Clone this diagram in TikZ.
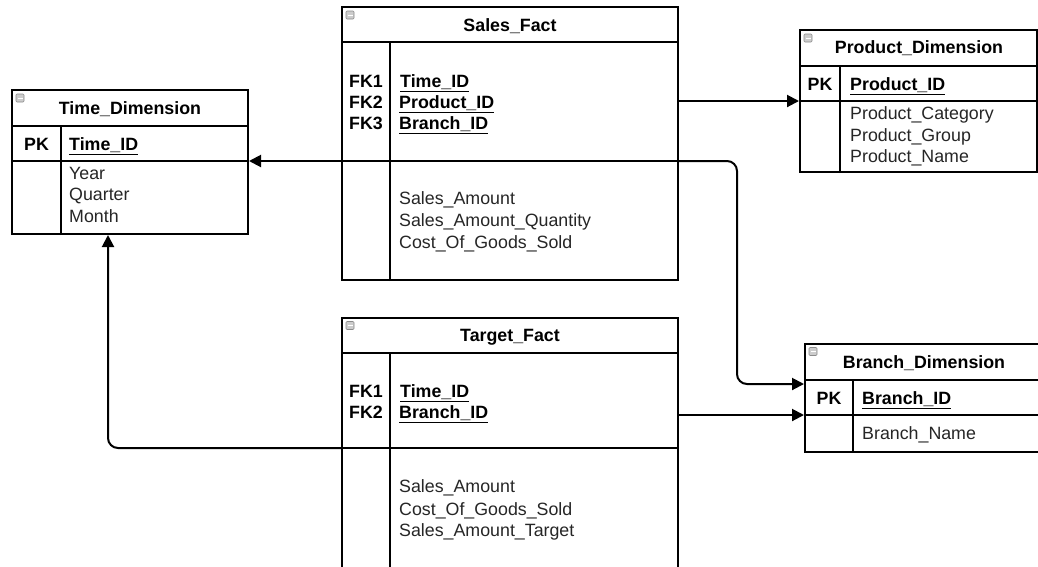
\documentclass[tikz,border=0pt]{standalone}
\usepackage{fontspec}
\setmainfont{Liberation Sans}
\usetikzlibrary{arrows.meta}
\tikzset{
  tbl/.style={draw, line width=2pt, inner sep=0pt, fill=white},
  sep/.style={line width=2pt},
  txtb/.style={font=\bfseries\fontsize{17.8}{21}\selectfont, inner sep=0pt, text height=12.7pt, text depth=0pt},
  txt/.style={font=\fontsize{17.8}{21}\selectfont, text=black!85, inner sep=0pt, text height=12.7pt, text depth=0pt, anchor=west},
  keyf/.style={txtb, anchor=west},
  conn/.style={line width=2pt, -{Triangle[length=12pt,width=12pt]}},
  icon/.style={draw=black!45, fill=black!20, line width=0.6pt, rounded corners=1pt}
}
\newcommand{\tblicon}[2]{%
  \draw[icon] (#1+4,#2+4) rectangle (#1+12,#2+12);
  \draw[white, line width=0.9pt] (#1+5.5,#2+8) -- (#1+10.5,#2+8);}
\begin{document}
\begin{tikzpicture}[x=1pt,y=-1pt]
\useasboundingbox (0,0) rectangle (1038,566);
\clip (0,0) rectangle (1038,566);

% ---------------- tables ----------------
% Time_Dimension
\node[tbl, minimum width=236pt, minimum height=144pt] (time) at (130,162) {};
\draw[sep] (time.west |- 0,126) -- (time.east |- 0,126);
\draw[sep] (time.west |- 0,161) -- (time.east |- 0,161);
\draw[sep] (time.south -| 61,0) -- (61,126);
\tblicon{12}{90}
\node[txtb] (timeT) at (130,108) {Time\_Dimension};
\node[txtb] (timePK) at (36.5,144.5) {PK};
\node[keyf] (timeK) at (69,144.5) {\underline{Time\_ID}};
\node[txt] (timeF1) at (69,173) {Year};
\node[txt] (timeF2) at (69,194.5) {Quarter};
\node[txt] (timeF3) at (69,216) {Month};

% Sales_Fact
\node[tbl, minimum width=336pt, minimum height=273pt] (sales) at (510,143.5) {};
\draw[sep] (sales.west |- 0,42) -- (sales.east |- 0,42);
\draw[sep] (sales.west |- 0,161) -- (sales.east |- 0,161);
\draw[sep] (sales.south -| 390,0) -- (390,42);
\tblicon{342}{7}
\node[txtb] (salesT) at (510,25) {Sales\_Fact};
\node[txtb] (salesFK1) at (366,81) {FK1};
\node[txtb] (salesFK2) at (366,102) {FK2};
\node[txtb] (salesFK3) at (366,123.5) {FK3};
\node[keyf] (salesK1) at (400,81) {\underline{Time\_ID}};
\node[keyf] (salesK2) at (399,102) {\underline{Product\_ID}};
\node[keyf] (salesK3) at (399,123.5) {\underline{Branch\_ID}};
\node[txt] (salesF1) at (399,198.5) {Sales\_Amount};
\node[txt] (salesF2) at (399,220) {Sales\_Amount\_Quantity};
\node[txt] (salesF3) at (399,242) {Cost\_Of\_Goods\_Sold};

% Product_Dimension
\node[tbl, minimum width=237pt, minimum height=142pt] (prod) at (918.5,101) {};
\draw[sep] (prod.west |- 0,65.5) -- (prod.east |- 0,65.5);
\draw[sep] (prod.west |- 0,101) -- (prod.east |- 0,101);
\draw[sep] (prod.south -| 840,0) -- (840,65.5);
\tblicon{800}{30}
\node[txtb] (prodT) at (919,47) {Product\_Dimension};
\node[txtb] (prodPK) at (820,84) {PK};
\node[keyf] (prodK) at (850,84) {\underline{Product\_ID}};
\node[txt] (prodF1) at (850,113.3) {Product\_Category};
\node[txt] (prodF2) at (850,134.7) {Product\_Group};
\node[txt] (prodF3) at (850,156) {Product\_Name};

% Target_Fact
\node[tbl, minimum width=336pt, minimum height=272pt] (target) at (510,453.5) {};
\draw[sep] (target.west |- 0,353) -- (target.east |- 0,353);
\draw[sep] (target.west |- 0,448) -- (target.east |- 0,448);
\draw[sep] (target.south -| 390,0) -- (390,353);
\tblicon{342}{317.5}
\node[txtb] (targetT) at (510,335) {Target\_Fact};
\node[txtb] (targetFK1) at (366,391) {FK1};
\node[txtb] (targetFK2) at (366,412.5) {FK2};
\node[keyf] (targetK1) at (400,391) {\underline{Time\_ID}};
\node[keyf] (targetK2) at (399,412.5) {\underline{Branch\_ID}};
\node[txt] (targetF1) at (399,486.5) {Sales\_Amount};
\node[txt] (targetF2) at (399,509) {Cost\_Of\_Goods\_Sold};
\node[txt] (targetF3) at (399,530.5) {Sales\_Amount\_Target};

% Branch_Dimension
\node[tbl, minimum width=238pt, minimum height=108pt] (branch) at (924,397.5) {};
\draw[sep] (branch.west |- 0,379.5) -- (branch.east |- 0,379.5);
\draw[sep] (branch.west |- 0,415) -- (branch.east |- 0,415);
\draw[sep] (branch.south -| 853,0) -- (853,379.5);
\tblicon{805}{343.5}
\node[txtb] (branchT) at (924,362) {Branch\_Dimension};
\node[txtb] (branchPK) at (829,398) {PK};
\node[keyf] (branchK) at (862,398) {\underline{Branch\_ID}};
\node[txt] (branchF1) at (862,433) {Branch\_Name};

% ---------------- connectors ----------------
\draw[conn] (sales.west |- 0,161) -- (time.east |- 0,161);
\draw[conn, rounded corners=10pt] (sales.east |- 0,161) -- (737,161) -- (737,384) -- (branch.west |- 0,384);
\draw[conn] (sales.east |- 0,101) -- (prod.west |- 0,101);
\draw[conn] (target.east |- 0,415) -- (branch.west |- 0,415);
\draw[conn, rounded corners=10pt] (target.west |- 0,448) -- (108,448) -- (time.south -| 108,0);
\end{tikzpicture}
\end{document}
